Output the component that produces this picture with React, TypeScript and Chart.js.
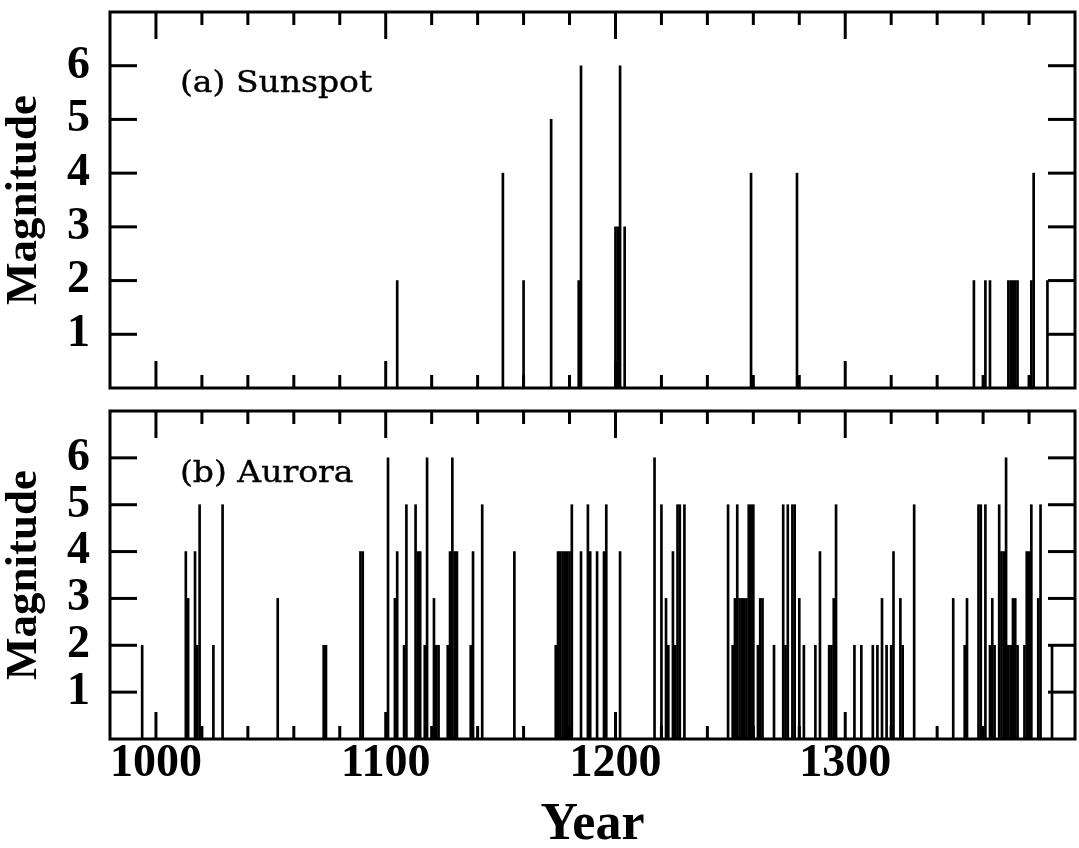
import React, { useEffect, useRef } from 'react';
import { Chart, registerables } from 'chart.js';

Chart.register(...registerables);

// ---- Data ----
const sunspotYears = [1105, 1151, 1160, 1172, 1184, 1185, 1200, 1201, 1202, 1204, 1259, 1279, 1356, 1361, 1363, 1371, 1372, 1373, 1374, 1375, 1381, 1382, 1388];
const sunspotMag = [2, 4, 2, 5, 2, 6, 3, 3, 6, 3, 4, 4, 2, 2, 2, 2, 2, 2, 2, 2, 2, 4, 2];

const auroraYears = [
  994, 1013, 1014, 1017, 1018, 1019, 1025, 1029, 1053, 1073, 1074, 1089, 1090,
  1101, 1104, 1105, 1108, 1109, 1113, 1114, 1115, 1117, 1118, 1121, 1122, 1123,
  1127, 1128, 1129, 1130, 1131, 1137, 1138, 1142, 1156,
  1174, 1175, 1176, 1177, 1178, 1179, 1180, 1181, 1185, 1188, 1189, 1192, 1195, 1196, 1202,
  1217, 1220, 1222, 1223, 1225, 1226, 1227, 1228, 1230,
  1249, 1251, 1252, 1253, 1254, 1255, 1256, 1257, 1258, 1259, 1260, 1262, 1263, 1264,
  1269, 1273, 1274, 1275, 1277, 1278, 1280, 1282, 1287, 1289, 1293, 1294, 1295, 1296,
  1304, 1307, 1312, 1314, 1316, 1318, 1320, 1321, 1324, 1325, 1330,
  1347, 1352, 1353, 1358, 1359, 1361, 1363, 1364, 1365, 1367, 1368, 1369, 1370,
  1371, 1372, 1373, 1374, 1375, 1378, 1379, 1380, 1381, 1384, 1385, 1390,
];
const auroraMag = [
  2, 4, 3, 4, 2, 5, 2, 5, 3, 2, 2, 4, 4,
  6, 3, 4, 2, 5, 5, 4, 4, 2, 6, 3, 2, 2,
  2, 4, 6, 4, 4, 2, 4, 5, 4,
  2, 4, 4, 4, 4, 4, 4, 5, 4, 5, 4, 4, 4, 5, 4,
  6, 5, 3, 2, 4, 2, 5, 5, 5,
  5, 2, 3, 5, 3, 3, 3, 3, 5, 5, 5, 2, 3, 3,
  2, 5, 2, 5, 5, 5, 3, 2, 2, 4, 2, 2, 3, 5,
  2, 2, 2, 2, 3, 2, 2, 4, 3, 2, 5,
  3, 2, 3, 5, 5, 5, 2, 3, 2, 5, 4, 4, 6,
  2, 2, 3, 3, 2, 2, 4, 4, 5, 3, 5, 2,
];

const xTickLabels = [1000, 1100, 1200, 1300];
const yTickLabels = [1, 2, 3, 4, 5, 6];
const panelLabels = ['(a) Sunspot', '(b) Aurora'];

const X_MIN = 980;
const X_MAX = 1400;
const Y_MIN = 0;
const Y_MAX = 7;

const LABEL_FONT = "'Liberation Serif', 'Times New Roman', serif";
const NOTE_FONT = "'DejaVu Serif', serif";

const frameTicks = {
  id: 'frameTicks',
  afterDatasetsDraw(chart: any, _args: any, opts: any) {
    const { ctx, chartArea, scales } = chart;
    const { left, right, top, bottom } = chartArea;
    const xs = scales.x;
    const ys = scales.y;
    ctx.save();
    ctx.strokeStyle = '#000';
    ctx.lineWidth = 3;
    ctx.lineCap = 'butt';
    const seg = (x1: number, y1: number, x2: number, y2: number) => {
      ctx.beginPath();
      ctx.moveTo(x1, y1);
      ctx.lineTo(x2, y2);
      ctx.stroke();
    };
    for (let v = X_MIN + 20; v < X_MAX; v += 20) {
      const px = xs.getPixelForValue(v);
      const len = v % 100 === 0 ? 27 : 13;
      seg(px, top, px, top + len);
      seg(px, bottom, px, bottom - len);
    }
    for (let v = Y_MIN + 1; v < Y_MAX; v += 1) {
      const py = ys.getPixelForValue(v);
      seg(left, py, left + 27, py);
      seg(right, py, right - 27, py);
    }
    ctx.strokeRect(left, top, right - left, bottom - top);
    // panel annotation
    ctx.fillStyle = '#000';
    ctx.strokeStyle = '#000';
    ctx.lineWidth = 0.4;
    ctx.font = `30px ${NOTE_FONT}`;
    ctx.textBaseline = 'middle';
    ctx.textAlign = 'left';
    ctx.translate(opts.x, opts.y);
    ctx.scale(1.1, 1);
    ctx.fillText(opts.text, 0, 0);
    ctx.strokeText(opts.text, 0, 0);
    ctx.restore();
  },
};

function makeConfig(years: number[], mags: number[], label: string, showX: boolean, noteY: number, padTop: number, padBottom: number) {
  return {
    type: 'bar',
    data: {
      datasets: [
        {
          label,
          data: years.map((yr, i) => ({ x: yr, y: mags[i] })),
          backgroundColor: '#000',
          borderWidth: 0,
          barThickness: 2,
        },
      ],
    },
    options: {
      animation: false,
      responsive: false,
      maintainAspectRatio: false,
      events: [],
      layout: { padding: { left: 0, right: 4, top: padTop, bottom: padBottom } },
      plugins: {
        legend: { display: false },
        tooltip: { enabled: false },
        frameTicks: { text: label, x: 180, y: noteY },
      },
      scales: {
        x: {
          type: 'linear',
          min: X_MIN,
          max: X_MAX,
          offset: false,
          display: showX,
          grid: { display: false, drawTicks: false },
          border: { display: false },
          afterBuildTicks: (scale: any) => {
            scale.ticks = xTickLabels.map((v) => ({ value: v }));
          },
          afterFit: (scale: any) => {
            scale.height = showX ? 109 : 0;
            scale.paddingLeft = 0;
            scale.paddingRight = 0;
            scale.paddingTop = 0;
            scale.paddingBottom = 0;
          },
          ticks: {
            color: '#000',
            padding: 2,
            maxRotation: 0,
            autoSkip: false,
            font: { family: LABEL_FONT, size: 46, weight: 'bold', lineHeight: 1.0 },
            callback: (v: any) => String(v),
          },
          title: {
            display: true,
            text: 'Year',
            color: '#000',
            padding: { top: 0, bottom: -4 },
            font: { family: LABEL_FONT, size: 52, weight: 'bold', lineHeight: 1.0 },
          },
        },
        y: {
          type: 'linear',
          min: Y_MIN,
          max: Y_MAX,
          grid: { display: false, drawTicks: false },
          border: { display: false },
          afterBuildTicks: (scale: any) => {
            scale.ticks = yTickLabels.map((v) => ({ value: v }));
          },
          afterFit: (scale: any) => {
            scale.width = 110;
            scale.paddingLeft = 0;
            scale.paddingRight = 0;
            scale.paddingTop = 0;
            scale.paddingBottom = 0;
          },
          ticks: {
            color: '#000',
            padding: 20,
            autoSkip: false,
            font: { family: LABEL_FONT, size: 46, weight: 'bold', lineHeight: 1.0 },
            callback: (v: any) => String(v),
          },
          title: {
            display: true,
            text: 'Magnitude',
            color: '#000',
            padding: { top: 2, bottom: 0 },
            font: { family: LABEL_FONT, size: 45, weight: 'bold', lineHeight: 1.0 },
          },
        },
      },
    },
    plugins: [frameTicks],
  };
}

function Panel(props: { years: number[]; mags: number[]; label: string; showX: boolean; top: number; height: number; noteY: number; padTop: number; padBottom: number }) {
  const ref = useRef<HTMLCanvasElement | null>(null);
  useEffect(() => {
    if (!ref.current) return;
    const chart = new Chart(ref.current, makeConfig(props.years, props.mags, props.label, props.showX, props.noteY, props.padTop, props.padBottom) as any);
    return () => chart.destroy();
  }, []);
  return (
    <div style={{ position: 'absolute', left: 0, top: props.top, width: 1079, height: props.height }}>
      <canvas ref={ref} width={1079} height={props.height} style={{ display: 'block', width: 1079, height: props.height }} />
    </div>
  );
}

export default function App() {
  return (
    <div style={{ position: 'absolute', left: 0, top: 0, width: 1079, height: 848, background: '#fff', overflow: 'hidden' }}>
      <Panel years={sunspotYears} mags={sunspotMag} label={panelLabels[0]} showX={false} top={0} height={400} noteY={84} padTop={12} padBottom={12} />
      <Panel years={auroraYears} mags={auroraMag} label={panelLabels[1]} showX={true} top={400} height={448} noteY={74} padTop={11} padBottom={0} />
    </div>
  );
}
